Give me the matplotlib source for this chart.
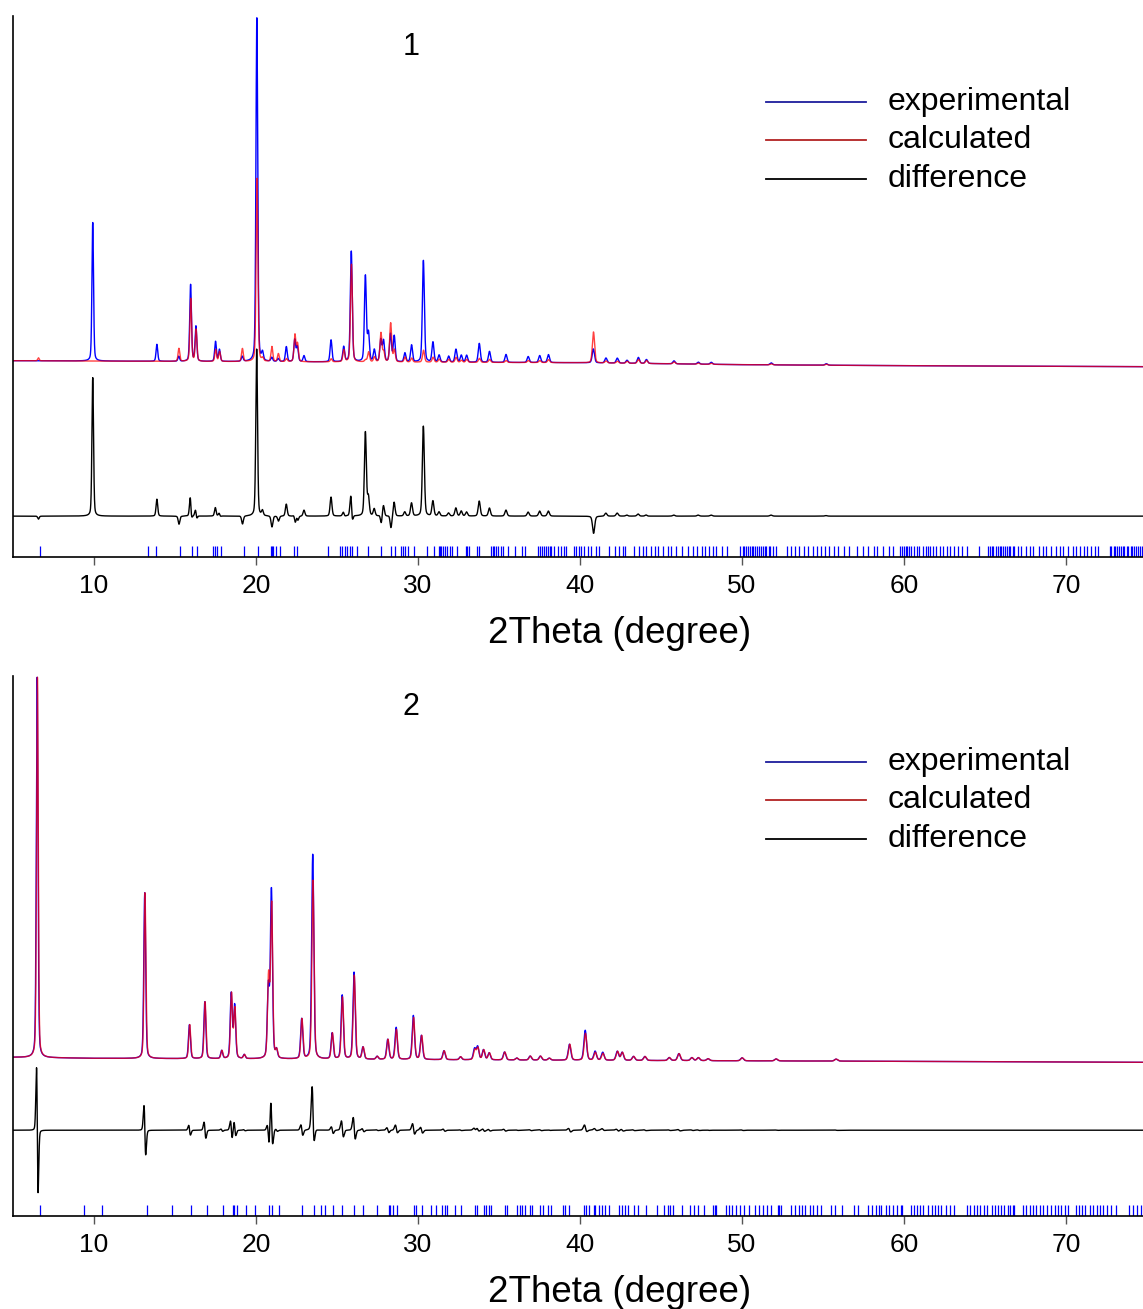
import numpy as np
import matplotlib
matplotlib.use("Agg")
import matplotlib.pyplot as plt

plt.rcParams['font.family'] = ['Liberation Sans', 'DejaVu Sans']

# ---------------- sample 1 : peaks ----------------
pk1_pos = [6.56, 9.92, 13.88, 15.23, 15.96, 16.29, 17.50, 17.74, 19.15, 20.05,
           20.40, 20.97, 21.37, 21.87, 22.39, 22.55, 22.96, 24.63, 25.41, 25.88,
           26.75, 26.94, 27.30, 27.70, 27.87, 28.30, 28.53, 29.19, 29.60, 30.33,
           30.92, 31.30, 31.89, 32.34, 32.67, 33.00, 33.78, 34.41, 35.43, 36.80,
           37.51, 38.05, 40.82, 41.60, 42.30, 42.90, 43.60, 44.10, 45.80, 47.30,
           48.10, 51.80, 55.20]
pk1_obs = [0, 139, 17, 5, 77, 35, 20, 12, 5, 345,
           8, 4, 3, 15, 22, 15, 6, 22, 15, 111,
           86, 28, 12, 22, 21, 28, 26, 9, 17, 102,
           20, 7, 6, 13, 7, 7, 19, 11, 8, 6,
           7, 8, 14, 5, 5, 3, 6, 4, 3, 2,
           2, 2, 1.5]
pk1_calc = [3, 0, 0, 13, 63, 32, 12, 10, 13, 184,
            3, 15, 8, 3, 27, 18, 0, 3, 12, 98,
            2, 10, 5, 29, 10, 39, 12, 5, 4, 12,
            5, 3, 3, 5, 2, 3, 4, 3, 2, 2,
            2, 3, 31, 2, 2, 2, 4, 3, 2, 1,
            1, 1, 1]
bg1_x = [5, 20, 40, 50, 60, 75]
bg1_y = [0, -1, -2, -4, -5, -6]
hkl1 = [6.65, 13.33, 13.80, 15.28, 16.04, 16.34, 17.36, 17.45, 17.57, 17.81, 19.27, 20.12,
        20.92, 20.99, 21.06, 21.25, 21.46, 22.36, 22.55, 24.46, 25.19, 25.33, 25.47, 25.64,
        25.78, 25.90, 26.23, 26.93, 27.71, 28.33, 28.56, 28.96, 29.06, 29.17, 29.41, 29.74,
        30.54, 30.99, 31.30, 31.35, 31.42, 31.53, 31.65, 31.77, 31.96, 32.10, 32.38, 32.99,
        33.04, 33.14, 33.66, 33.77, 34.48, 34.60, 34.69, 34.79, 34.93, 35.10, 35.22, 35.57,
        36.01, 36.42, 36.63, 37.38, 37.52, 37.66, 37.78, 37.90, 38.02, 38.14, 38.23, 38.42,
        38.66, 38.80, 39.03, 39.13, 39.65, 39.77, 39.96, 40.08, 40.25, 40.48, 40.65, 41.0,
        41.2, 41.8, 42.15, 42.4, 42.65, 42.8, 43.3, 43.65, 43.9, 44.1, 44.35, 44.6, 44.8,
        45.15, 45.4, 45.6, 45.95, 46.3, 46.65, 47.0, 47.25, 47.5, 47.7, 47.95, 48.2, 48.4,
        48.75, 49.1, 49.9, 50.05, 50.15, 50.25, 50.35, 50.5, 50.6, 50.7, 50.8, 50.95, 51.05,
        51.2, 51.3, 51.4, 51.5, 51.65, 51.75, 51.9, 52.1, 52.8, 53.05, 53.25, 53.5, 53.85,
        54.05, 54.4, 54.65, 54.9, 55.15, 55.35, 55.7, 55.9, 56.3, 56.6, 57.1, 57.45, 57.8,
        58.15, 58.35, 58.7, 59.05, 59.3, 59.75, 59.85, 60.0, 60.1, 60.2, 60.3, 60.45, 60.6,
        60.8, 60.95, 61.15, 61.35, 61.5, 61.6, 61.8, 61.95, 62.2, 62.4, 62.65, 62.85, 63.1,
        63.35, 63.55, 63.9, 64.6, 65.2, 65.3, 65.4, 65.5, 65.65, 65.8, 65.9, 66.0, 66.1,
        66.25, 66.35, 66.45, 66.55, 66.7, 66.8, 67.05, 67.25, 67.5, 67.75, 67.95, 68.3,
        68.55, 68.75, 69.1, 69.35, 69.6, 69.8, 70.15, 70.4, 70.6, 70.85, 71.1, 71.3, 71.55,
        71.8, 72.0, 72.7, 72.8, 72.95, 73.05, 73.15, 73.25, 73.4, 73.5, 73.6, 73.75, 73.85,
        74.0, 74.1, 74.2, 74.3, 74.45, 74.55, 74.7, 74.8]

# ---------------- sample 2 ----------------
pk2_pos = [6.49, 13.13, 15.89, 16.84, 17.88, 18.47, 18.68, 19.27, 20.76, 20.95,
           21.26, 22.82, 23.50, 24.70, 25.32, 26.05, 26.60, 27.47, 28.13, 28.65,
           29.71, 30.21, 31.60, 32.62, 33.49, 33.68, 34.04, 34.39, 35.34, 36.09,
           36.92, 37.55, 38.10, 39.35, 40.32, 40.93, 41.40, 42.30, 42.60, 43.30,
           44.00, 45.50, 46.10, 46.90, 47.30, 47.90, 50.00, 52.10, 55.80]
pk2_obs = [381, 166, 34, 57, 8, 65, 53, 4, 70, 168,
           8, 40, 205, 26, 64, 87, 12, 3, 20, 32,
           44, 24, 9, 3, 11, 13, 10, 7, 8, 2,
           4, 4, 2, 16, 30, 9, 8, 9, 8, 4,
           4, 3, 7, 3, 3, 2, 3, 2, 2]
pk2_calc = [381, 166, 34, 57, 8, 65, 50, 4, 81, 154,
            8, 40, 179, 26, 62, 84, 12, 3, 20, 30,
            42, 24, 9, 3, 10, 12, 10, 7, 8, 2,
            4, 4, 2, 16, 27, 8, 7, 9, 8, 4,
            4, 3, 7, 3, 3, 2, 3, 2, 2]
bg2_x = [5, 10, 40, 60, 75]
bg2_y = [0, -1, -3, -4, -5]
hkl2 = [6.65, 9.36, 10.47, 13.28, 14.81, 16.01, 16.96, 17.99, 18.56, 18.63, 18.80, 19.39,
        19.93, 20.80, 20.97, 21.39, 22.85, 23.56, 23.99, 24.27, 24.74, 25.33, 26.06, 26.58,
        27.48, 28.18, 28.27, 28.47, 28.70, 29.76, 29.88, 30.26, 30.83, 31.08, 31.51, 31.68,
        31.77, 32.31, 32.67, 33.49, 33.66, 34.08, 34.17, 34.36, 34.48, 35.38, 35.47, 36.11,
        36.30, 36.42, 36.61, 36.89, 37.03, 37.55, 37.74, 38.02, 38.21, 38.96, 39.10, 39.33,
        40.23, 40.39, 40.58, 40.86, 40.95, 41.15, 41.35, 41.55, 41.8, 42.4, 42.6, 42.75,
        42.95, 43.3, 43.55, 44.05, 44.75, 45.2, 45.4, 45.55, 45.75, 46.3, 46.8, 47.05, 47.3,
        47.65, 48.2, 48.3, 48.4, 49.0, 49.2, 49.4, 49.6, 49.85, 50.1, 50.4, 50.8, 51.05,
        51.3, 51.55, 51.8, 52.2, 52.3, 52.4, 53.0, 53.25, 53.5, 53.7, 53.9, 54.2, 54.35,
        54.6, 54.85, 55.5, 55.75, 56.2, 56.9, 57.15, 57.8, 58.0, 58.25, 58.45, 58.6, 58.9,
        59.1, 59.3, 59.55, 59.8, 59.9, 60.45, 60.6, 60.8, 61.0, 61.2, 61.45, 61.7, 61.9,
        62.1, 62.3, 62.6, 62.85, 63.1, 63.9, 64.1, 64.3, 64.5, 64.7, 64.95, 65.15, 65.4,
        65.6, 65.8, 66.0, 66.2, 66.4, 66.55, 66.7, 66.8, 67.35, 67.55, 67.75, 67.95, 68.15,
        68.4, 68.6, 68.85, 69.05, 69.3, 69.5, 69.7, 69.95, 70.15, 70.6, 70.8, 71.0, 71.2,
        71.45, 71.65, 71.9, 72.1, 72.3, 72.55, 72.8, 73.1, 73.9, 74.15, 74.4, 74.6, 74.85]

labels = ['experimental', 'calculated', 'difference']
legend_colors = ['#1c1c9c', '#b22222', 'black']

tth = np.arange(5.0, 75.0, 0.005)


def profile(pos, heights, shift, w0, w1):
    """pseudo-Voigt sum of the peaks, peak top = given height"""
    y = np.zeros_like(tth)
    for p, h in zip(pos, heights):
        fw = w0 + w1 * p
        d = 2 * (tth - p - shift) / fw
        y += h * (0.3 / (1 + d ** 2) + 0.7 * np.exp(-np.log(2) * d ** 2))
    return y


def draw_panel(ax, tag, pos, obs_h, calc_h, bgx, bgy, hkl, shift, w0, w1,
               diff_off, ylim, tick_h):
    bg = np.interp(tth, bgx, bgy)
    obs = bg + profile(pos, obs_h, 0.0, w0, w1)
    calc = bg + profile(pos, calc_h, shift, w0, w1)
    ax.plot(tth, obs, color='#0000ff', lw=1.0)
    ax.plot(tth, calc, color='#ff0000', lw=1.0, alpha=0.75)
    ax.plot(tth, obs - calc + diff_off, color='black', lw=1.0)
    ax.vlines(hkl, ylim[0], ylim[0] + tick_h, color='#0000ff', lw=0.9)

    ax.set_xlim(5, 74.75)
    ax.set_ylim(*ylim)
    ax.set_yticks([])
    ax.set_xticks(range(10, 71, 10))
    ax.tick_params(axis='x', direction='out', length=6, width=1, color='#555555',
                   labelsize=19, pad=6)
    for s in ['top', 'right']:
        ax.spines[s].set_visible(False)
    for s in ['left', 'bottom']:
        ax.spines[s].set_linewidth(1.2)
    ax.set_xlabel('2Theta (degree)', fontsize=26.5)
    ax.xaxis.set_label_coords(0.537, -0.142)
    ax.xaxis.label.set_verticalalignment('center')

    ax.text(0.352, 0.943, tag, transform=ax.transAxes, fontsize=22,
            ha='center', va='center')
    for i, (lab, col) in enumerate(zip(labels, legend_colors)):
        yy = 0.841 - i * 0.071
        ax.plot([0.666, 0.755], [yy, yy], transform=ax.transAxes, color=col, lw=1.3)
        ax.text(0.774, yy, lab, transform=ax.transAxes, fontsize=23, va='center')


fig = plt.figure(figsize=(11.43, 13.09), dpi=100)
ax1 = fig.add_axes([0.0114, 0.5745, 0.9886, 0.4133])
ax2 = fig.add_axes([0.0114, 0.0710, 0.9886, 0.4126])

draw_panel(ax1, '1', pk1_pos, pk1_obs, pk1_calc, bg1_x, bg1_y, hkl1,
           0.01, 0.10, 0.0015, -156, (-197, 346), 11)
draw_panel(ax2, '2', pk2_pos, pk2_obs, pk2_calc, bg2_x, bg2_y, hkl2,
           0.015, 0.11, 0.002, -73, (-159, 382), 11)

fig.savefig('out.png', dpi=100)
